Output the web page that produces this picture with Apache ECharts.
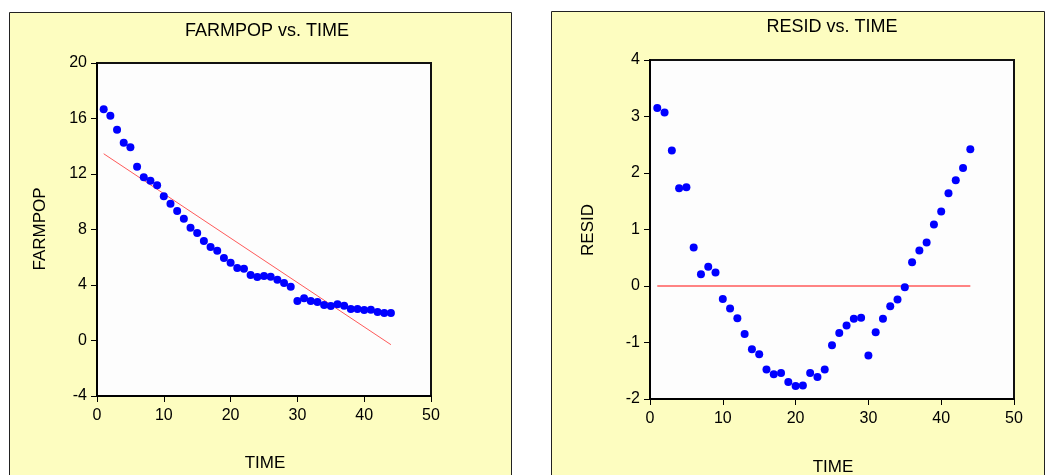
<!DOCTYPE html>
<html>
<head>
<meta charset="utf-8">
<script src="https://cdn.jsdelivr.net/npm/echarts@6/dist/echarts.min.js"></script>
<style>
html,body{margin:0;padding:0;background:#ffffff;}
#chart{width:1047px;height:475px;}
</style>
</head>
<body>
<div id="chart"></div>
<script>
// ---- data ----
var time = [1,2,3,4,5,6,7,8,9,10,11,12,13,14,15,16,17,18,19,20,21,22,23,24,25,26,27,28,29,30,31,32,33,34,35,36,37,38,39,40,41,42,43,44];
var farmpop = [16.66,16.20,15.19,14.26,13.92,12.53,11.76,11.52,11.19,10.39,9.86,9.33,8.78,8.13,7.75,7.17,6.74,6.47,5.95,5.61,5.23,5.17,4.72,4.58,4.65,4.60,4.38,4.14,3.88,2.85,3.04,2.85,2.77,2.56,2.49,2.61,2.51,2.27,2.27,2.20,2.22,2.05,1.98,1.98];
var fitTime = [1, 44];
var fitValues = [13.46, -0.30];
var resid = [3.15,3.07,2.40,1.73,1.75,0.68,0.21,0.34,0.24,-0.23,-0.40,-0.57,-0.85,-1.12,-1.21,-1.48,-1.56,-1.54,-1.70,-1.77,-1.76,-1.54,-1.61,-1.48,-1.05,-0.83,-0.70,-0.58,-0.56,-1.23,-0.82,-0.58,-0.36,-0.24,-0.02,0.42,0.63,0.77,1.09,1.32,1.64,1.87,2.09,2.42];
var zeroTime = [1, 44];
var zeroValues = [0, 0];
var titles = ["FARMPOP vs. TIME", "RESID vs. TIME"];
var yNames = ["FARMPOP", "RESID"];
var xName = "TIME";

function pairs(xs, ys){ return xs.map(function(x,i){ return [x, ys[i]]; }); }

var FONT = '"Liberation Sans", Arial, sans-serif';
var YELLOW = '#fdfdc0';
var BLUE = '#0000ff';
var RED = '#ff5a5a';

var chart = echarts.init(document.getElementById('chart'), null, {renderer:'canvas'});

function xAxisCfg(gi){
  return {
    gridIndex: gi, type:'value', min:0, max:50, interval:10,
    axisLine:{show:true, onZero:false, lineStyle:{color:'#000', width:2}},
    axisTick:{show:true, length:6, lineStyle:{color:'#000', width:1}},
    axisLabel:{color:'#000', fontSize:16, fontFamily:FONT, margin:12},
    splitLine:{show:false}
  };
}
function yAxisCfg(gi, mn, mx, iv){
  return {
    gridIndex: gi, type:'value', min:mn, max:mx, interval:iv,
    axisLine:{show:true, onZero:false, lineStyle:{color:'#000', width:2}},
    axisTick:{show:true, length:6, lineStyle:{color:'#000', width:1}},
    axisLabel:{color:'#000', fontSize:16, fontFamily:FONT, margin:10},
    splitLine:{show:false}
  };
}

var option = {
  backgroundColor:'#ffffff',
  animation:false,
  graphic:[
    {type:'rect', z:-10, shape:{x:9.5, y:12.5, width:502, height:470}, style:{fill:YELLOW, stroke:'#222', lineWidth:1}},
    {type:'rect', z:-10, shape:{x:551.5, y:11.5, width:493, height:470}, style:{fill:YELLOW, stroke:'#222', lineWidth:1}},
    {type:'text', style:{text:titles[0], x:267, y:31, textAlign:'center', textVerticalAlign:'middle', font:'18px ' + FONT, fill:'#000'}},
    {type:'text', style:{text:titles[1], x:832, y:27, textAlign:'center', textVerticalAlign:'middle', font:'18px ' + FONT, fill:'#000'}},
    {type:'text', style:{text:xName, x:265, y:463, textAlign:'center', textVerticalAlign:'middle', font:'17px ' + FONT, fill:'#000'}},
    {type:'text', style:{text:xName, x:833, y:467, textAlign:'center', textVerticalAlign:'middle', font:'17px ' + FONT, fill:'#000'}},
    {type:'text', x:40, y:229, rotation:Math.PI/2, style:{text:yNames[0], x:0, y:0, textAlign:'center', textVerticalAlign:'middle', font:'17px ' + FONT, fill:'#000'}},
    {type:'text', x:588, y:230, rotation:Math.PI/2, style:{text:yNames[1], x:0, y:0, textAlign:'center', textVerticalAlign:'middle', font:'17px ' + FONT, fill:'#000'}}
  ],
  grid:[
    {left:97, top:63, width:334, height:333, show:true, backgroundColor:'#fdfdfd', borderColor:'#111', borderWidth:2},
    {left:650, top:60, width:364, height:339, show:true, backgroundColor:'#fdfdfd', borderColor:'#111', borderWidth:2}
  ],
  xAxis:[xAxisCfg(0), xAxisCfg(1)],
  yAxis:[yAxisCfg(0,-4,20,4), yAxisCfg(1,-2,4,1)],
  series:[
    {type:'line', xAxisIndex:0, yAxisIndex:0, data:pairs(fitTime, fitValues), symbol:'none', lineStyle:{color:RED, width:1}, z:2},
    {type:'scatter', xAxisIndex:0, yAxisIndex:0, data:pairs(time, farmpop), symbol:'circle', symbolSize:8, itemStyle:{color:BLUE, opacity:1}, z:3},
    {type:'line', xAxisIndex:1, yAxisIndex:1, data:pairs(zeroTime, zeroValues), symbol:'none', lineStyle:{color:RED, width:1.5}, z:2},
    {type:'scatter', xAxisIndex:1, yAxisIndex:1, data:pairs(time, resid), symbol:'circle', symbolSize:8, itemStyle:{color:BLUE, opacity:1}, z:3}
  ]
};
chart.setOption(option);
</script>
</body>
</html>
